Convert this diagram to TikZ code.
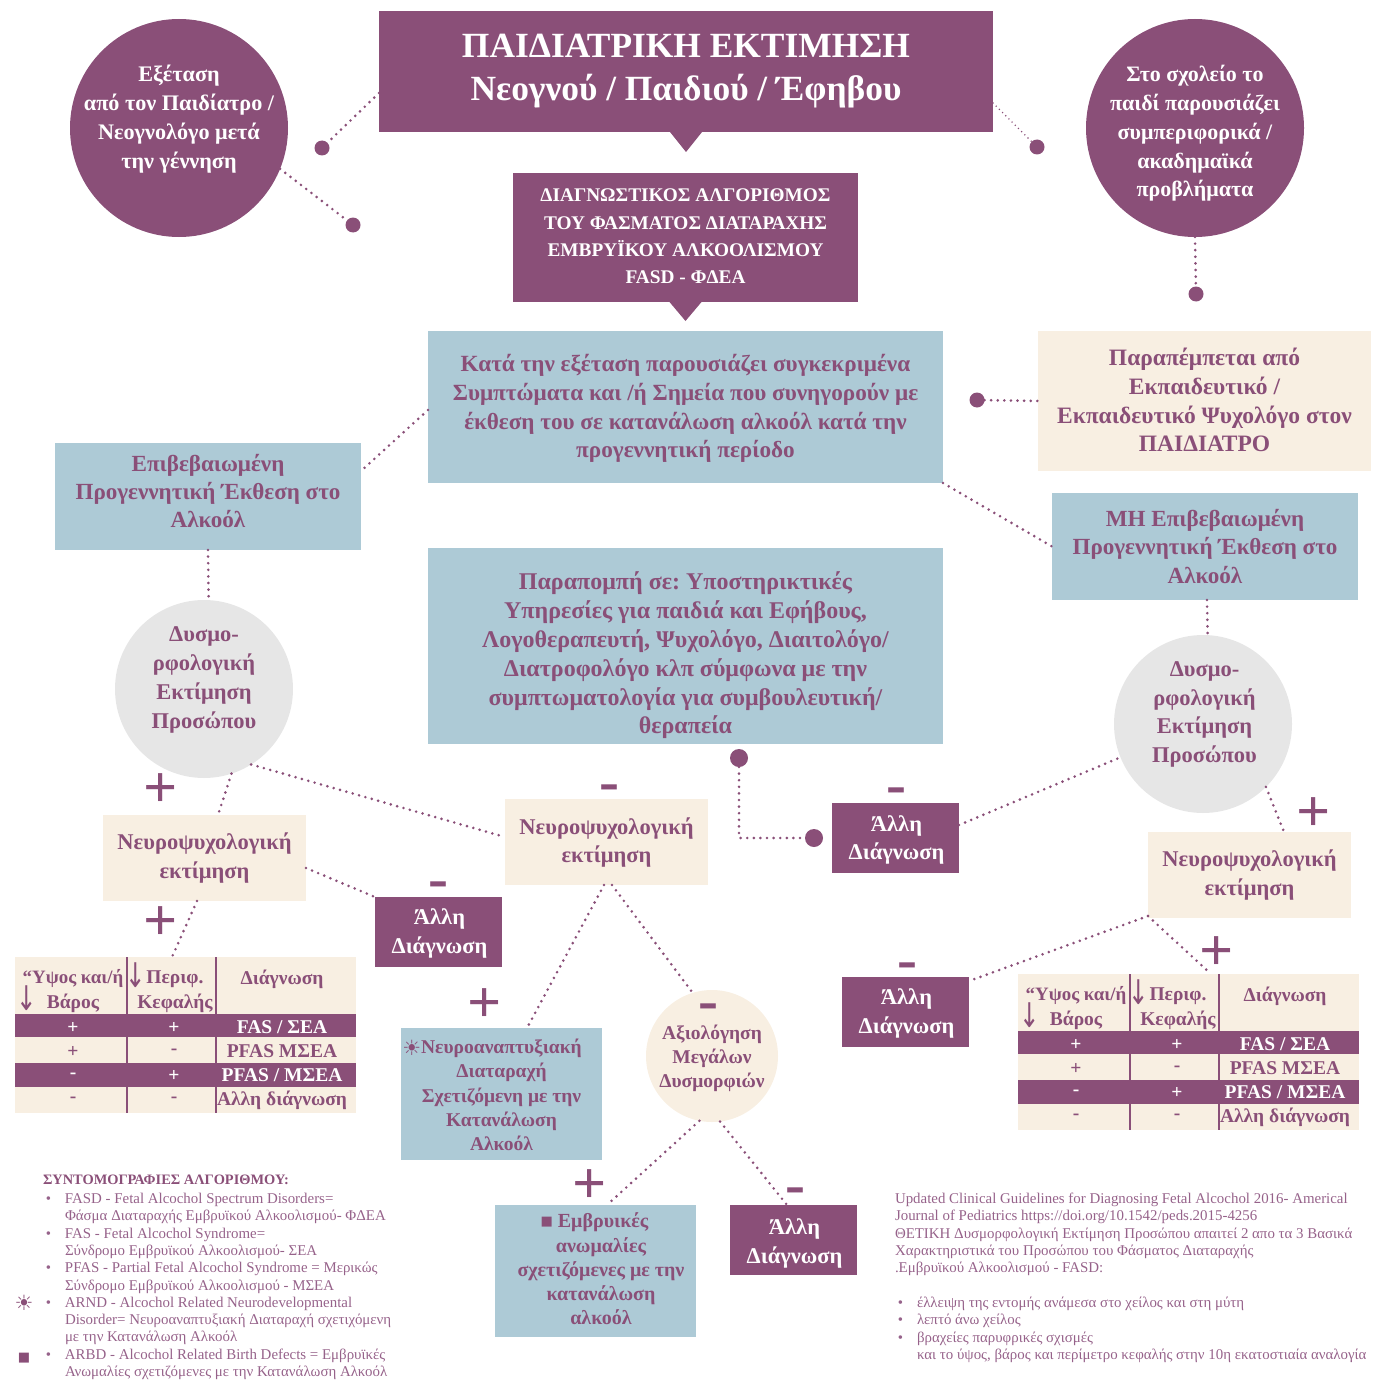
\documentclass[tikz,border=0pt]{standalone}
\usepackage{fontspec}
\usepackage{graphicx}
\setmainfont{Liberation Serif}
\newfontfamily\symfont{DejaVu Sans}
\usetikzlibrary{calc}
\definecolor{pur}{HTML}{8A4F78}
\definecolor{legtxt}{HTML}{96628A}
\definecolor{blu}{HTML}{ADCAD6}
\definecolor{bei}{HTML}{F8EFE2}
\definecolor{gry}{HTML}{E6E6E6}
\newcommand\fs[2]{\fontsize{#1}{#2}\selectfont}
\tikzset{
  x=1pt,y=-1pt,
  rectbase/.style={rectangle,inner sep=0pt,outer sep=0pt,draw=none},
  purbox/.style={rectbase,fill=pur},
  blubox/.style={rectbase,fill=blu},
  beibox/.style={rectbase,fill=bei},
  disc/.style={circle,inner sep=0pt,outer sep=0pt,draw=none},
  txt/.style={inner sep=0pt,outer sep=0pt,align=center,font=\fs{22.5}{28.8}\bfseries},
  txtw/.style={txt,text=white},
  txtp/.style={txt,text=pur},
  small/.style={font=\fs{19.5}{24.2}\bfseries},
  dotn/.style={circle,fill=pur,minimum size=15pt,inner sep=0pt,outer sep=0pt},
  conn/.style={draw=pur,line width=2.9pt,line cap=round,dash pattern=on 0pt off 6.6pt},
  connthin/.style={draw=pur,line width=1.6pt,line cap=round,dash pattern=on 0pt off 4.5pt},
  sign/.style={inner sep=0pt,outer sep=0pt,text=pur,font=\fs{60}{60}\bfseries},
  cell/.style={inner sep=0pt,outer sep=0pt,text=pur,font=\fs{19.5}{24}\bfseries},
  cellw/.style={inner sep=0pt,outer sep=0pt,text=white,font=\fs{19.5}{24}\bfseries},
  glyph/.style={inner sep=0pt,outer sep=0pt,text=pur,font=\symfont},
  leg/.style={inner sep=0pt,outer sep=0pt,anchor=north west,align=left,text=legtxt,font=\fs{14.9}{17.33}},
}
% #1 name #2 box style #3 x0 #4 y0 #5 x1 #6 y1 #7 text style #8 text centre y #9 text
\newcommand\bx[9]{%
  \node[#2,minimum width={#5-(#3)},minimum height={#6-(#4)}] (#1) at ({(#3+#5)/2},{(#4+#6)/2}) {};
  \node[#7] (#1t) at ({(#3+#5)/2},#8) {#9};
}
% #1 name #2 circle style colour #3 cx #4 cy #5 r #6 text style #7 text y #8 text
\newcommand\crc[8]{%
  \node[disc,fill=#2,minimum size={2*#5}] (#1) at (#3,#4) {};
  \node[#6] (#1t) at (#3,#7) {#8};
}
\newcommand\dnarrow{\scalebox{.72}[1]{↓}}
\newcommand\tbl[3]{%
  \begin{scope}[shift={(#2,#3)}]
    \node[beibox,minimum width=341pt,minimum height=156pt] (#1) at (185.5,1035) {};
    \node[purbox,minimum width=341pt,minimum height=23pt] (#1ra) at (185.5,1025.5) {};
    \node[purbox,minimum width=341pt,minimum height=24pt] (#1rb) at (185.5,1075) {};
    \draw[pur,line width=1.6pt] (127,957) -- (127,1014) (216,957) -- (216,1014)
       (127,1037) -- (127,1063) (216,1037) -- (216,1063)
       (127,1087) -- (127,1113) (216,1087) -- (216,1113);
    \node[cell,font=\fs{18.9}{24}\bfseries] (#1ha) at (73,978) {“Υψος και/ή};
    \node[cell] (#1hb) at (73,1003) {Βάρος};
    \node[cell] (#1hc) at (175,979) {Περιφ.};
    \node[cell] (#1hd) at (175,1003) {Κεφαλής};
    \node[cell] (#1he) at (282,979) {Διάγνωση};
    \node[glyph,font=\symfont\fs{34}{34}] (#1aa) at (27,998) {\dnarrow};
    \node[glyph,font=\symfont\fs{34}{34}] (#1ab) at (136,975) {\dnarrow};
    \node[cellw] (#1a) at (73,1028) {+};
    \node[cellw] (#1b) at (174,1028) {+};
    \node[cellw] (#1c) at (282,1027) {FAS / ΣΕΑ};
    \node[cell] (#1d) at (73,1052) {+};
    \node[cell] (#1e) at (174,1052) {-};
    \node[cell] (#1f) at (282,1051) {PFAS ΜΣΕΑ};
    \node[cellw] (#1g) at (73,1076) {-};
    \node[cellw] (#1h) at (174,1076) {+};
    \node[cellw] (#1i) at (282,1075) {PFAS / ΜΣΕΑ};
    \node[cell] (#1j) at (73,1100) {-};
    \node[cell] (#1k) at (174,1100) {-};
    \node[cell] (#1l) at (282,1100) {Αλλη διάγνωση};
  \end{scope}
}
\newcommand\bul{\llap{•\hspace{14pt}}}
\frenchspacing
\begin{document}
\begin{tikzpicture}
\useasboundingbox (0,0) rectangle (1376,1383);
% top
\bx{title}{purbox}{379}{11}{993}{132}{txtw,font=\fs{35.4}{43}\bfseries}{71.5}{ΠΑΙΔΙΑΤΡΙΚΗ ΕΚΤΙΜΗΣΗ\\Νεογνού / Παιδιού / Έφηβου}
\fill[pur] ([xshift=-16pt]title.south) -- ([xshift=16pt]title.south) -- ([yshift=-20pt]title.south) -- cycle;
\bx{diag}{purbox}{513}{173}{858}{302}{txtw,font=\fs{19.3}{27.4}\bfseries}{236.5}{ΔΙΑΓΝΩΣΤΙΚΟΣ ΑΛΓΟΡΙΘΜΟΣ\\ΤΟΥ ΦΑΣΜΑΤΟΣ ΔΙΑΤΑΡΑΧΗΣ\\ΕΜΒΡΥΪΚΟΥ ΑΛΚΟΟΛΙΣΜΟΥ\\FASD - ΦΔΕΑ}
\fill[pur] ([xshift=-16pt]diag.south) -- ([xshift=16pt]diag.south) -- ([yshift=-19pt]diag.south) -- cycle;
\crc{cA}{pur}{179}{128}{109}{txtw,font=\fs{22.2}{28.8}\bfseries}{119}{Εξέταση\\από τον Παιδίατρο /\\Νεογνολόγο μετά\\την γέννηση}
\crc{cB}{pur}{1195}{128}{109}{txtw,font=\fs{22}{28.8}\bfseries}{133.5}{Στο σχολείο το\\παιδί παρουσιάζει\\συμπεριφορικά /\\ακαδημαϊκά\\προβλήματα}
\node[dotn] (dA) at (322,148) {};
\node[dotn] (dB) at (353,225) {};
\node[dotn] (dC) at (1037,147) {};
\node[dotn] (dD) at (1196,294) {};
\node[dotn] (dE) at (977,400) {};
\node[dotn,minimum size=18pt] (dF) at (739,758) {};
\node[dotn,minimum size=18pt] (dG) at (814,838) {};
% middle boxes
\bx{kata}{blubox}{428}{331}{943}{483}{txtp,font=\fs{23.2}{28.8}\bfseries}{408.5}{Κατά την εξέταση παρουσιάζει συγκεκριμένα\\Συμπτώματα και /ή Σημεία που συνηγορούν με\\έκθεση του σε κατανάλωση αλκοόλ κατά την\\προγεννητική περίοδο}
\bx{pink}{beibox}{1038}{331}{1371}{471}{txtp,font=\fs{23.5}{28.8}\bfseries}{400}{Παραπέμπεται από\\Εκπαιδευτικό /\\Εκπαιδευτικό Ψυχολόγο στον\\ΠΑΙΔΙΑΤΡΟ}
\bx{epib}{blubox}{55}{443}{361}{550}{txtp,font=\fs{23.1}{28}\bfseries}{491}{Επιβεβαιωμένη\\Προγεννητική Έκθεση στο\\Αλκοόλ}
\bx{mh}{blubox}{1052}{493}{1358}{600}{txtp,font=\fs{23.1}{28.5}\bfseries}{546.5}{ΜΗ Επιβεβαιωμένη\\Προγεννητική Έκθεση στο\\Αλκοόλ}
\bx{ref}{blubox}{428}{548}{943}{744}{txtp,font=\fs{24}{28.8}\bfseries}{655.5}{Παραπομπή σε: Υποστηρικτικές\\Υπηρεσίες για παιδιά και Εφήβους,\\Λογοθεραπευτή, Ψυχολόγο, Διαιτολόγο/\\Διατροφολόγο κλπ σύμφωνα με την\\συμπτωματολογία για συμβουλευτική/\\θεραπεία}
\crc{cC}{gry}{204}{689}{89}{txtp}{680}{Δυσμο-\\ρφολογική\\Εκτίμηση\\Προσώπου}
\crc{cD}{gry}{1203}{724}{89}{txtp,xshift=1.5pt}{714.5}{Δυσμο-\\ρφολογική\\Εκτίμηση\\Προσώπου}
\bx{nA}{beibox}{103}{815}{306}{901}{txtp}{858}{Νευροψυχολογική\\εκτίμηση}
\bx{nB}{beibox}{505}{799}{708}{885}{txtp}{842.5}{Νευροψυχολογική\\εκτίμηση}
\bx{nC}{beibox}{1148}{832}{1351}{918}{txtp}{875}{Νευροψυχολογική\\εκτίμηση}
\bx{aA}{purbox}{375}{897}{502}{967}{txtw,xshift=1pt}{933.5}{Άλλη\\Διάγνωση}
\bx{aB}{purbox}{832}{803}{959}{873}{txtw,xshift=1pt}{840}{Άλλη\\Διάγνωση}
\bx{aC}{purbox}{842}{977}{969}{1047}{txtw,xshift=1pt}{1013.5}{Άλλη\\Διάγνωση}
\bx{aD}{purbox}{730}{1205}{857}{1275}{txtw,xshift=1pt}{1243.5}{Άλλη\\Διάγνωση}
\bx{nrb}{blubox}{401}{1028}{602}{1160}{txtp,small}{1095}{\raisebox{-2pt}{\symfont\fs{21}{24}\mdseries ☀}Νευροαναπτυξιακή\kern19pt\\Διαταραχή\\Σχετιζόμενη με την\\Κατανάλωση\\Αλκοόλ}
\bx{emb}{blubox}{495}{1205}{696}{1337}{txtp,font=\fs{20}{24.2}\bfseries,xshift=5.5pt}{1269}{\raisebox{2pt}{\symfont\fs{13}{24}■} Εμβρυικές\kern13pt\\ανωμαλίες\\σχετιζόμενες με την\\κατανάλωση\\αλκοόλ}
\crc{cE}{bei}{712}{1056}{66}{txtp,small}{1058.5}{Αξιολόγηση\\Μεγάλων\\Δυσμορφιών}
% tables
\tbl{tA}{0}{0}
\tbl{tB}{1003}{17}
% signs
\node[sign] (pA) at (161,791) {+};
\node[sign] (pB) at (161,924) {+};
\node[sign] (pC) at (485,1006) {+};
\node[sign] (pD) at (590,1187) {+};
\node[sign] (pE) at (1314,815) {+};
\node[sign] (pF) at (1217,954) {+};
\node[sign] (mA) at (609,793) {-};
\node[sign] (mB) at (438,890) {-};
\node[sign] (mC) at (708,1012) {-};
\node[sign] (mD) at (896,796) {-};
\node[sign] (mE) at (907,971) {-};
\node[sign] (mF) at (795,1196) {-};
% connectors
\draw[conn] ([yshift=-21.5pt]title.west) -- (dA);
\draw[conn] (cA.-22.6) -- (dB);
\draw[connthin] ([yshift=-31.5pt]title.east) -- (dC);
\draw[conn] (cB.south) -- (dD);
\draw[conn] (dE) -- (pink.west);
\draw[conn] ([yshift=-3pt]kata.west) -- ([yshift=25.5pt]epib.east);
\draw[conn] (kata.south east) -- (mh.west);
\draw[conn] (epib.south) -- (cC.87.4);
\draw[conn] ([xshift=2pt]mh.south) -- (cD.87.4);
\draw[conn] (cC.-72) -- ([xshift=13.5pt]nA.north);
\draw[conn] (cC.-58.4) -- ([yshift=5pt]nB.west);
\draw[conn] ([yshift=-10pt]nA.east) -- (aA.north west);
\draw[conn] ([xshift=-7.5pt]nA.south) -- ([xshift=-13.5pt]tA.north);
\draw[conn] ([xshift=-2.5pt]nB.south) -- ([xshift=25.5pt]nrb.north);
\draw[conn] ([xshift=5.5pt]nB.south) -- (cE.107);
\draw[conn] (cE.259.5) -- ([xshift=11.5pt]emb.north);
\draw[conn] (cE.-83) -- ([xshift=-6.5pt]aD.north);
\draw[conn] (dF) |- (dG);
\draw[conn] ([yshift=13pt]aB.east) -- (cD.202.8);
\draw[conn] (cD.-45.5) -- ([xshift=34.5pt]nC.north);
\draw[conn] ([yshift=2pt]nC.south west) -- ([yshift=31pt]aC.east);
\draw[conn] ([yshift=2pt]nC.south west) -- ([xshift=22.5pt]tB.north);
% legend
\node[leg,text=pur,font=\fs{14.4}{17.33}\bfseries] (lh) at (43,1175) {ΣΥΝΤΟΜΟΓΡΑΦΙΕΣ ΑΛΓΟΡΙΘΜΟΥ:};
\node[leg] (lb) at (65,1193) {\bul FASD - Fetal Alcochol Spectrum Disorders=\\Φάσμα Διαταραχής Εμβρυϊκού Αλκοολισμού- ΦΔΕΑ\\\bul FAS - Fetal Alcochol Syndrome=\\Σύνδρομο Εμβρυϊκού Αλκοολισμού- ΣΕΑ\\\bul PFAS - Partial Fetal Alcochol Syndrome = Μερικώς\\Σύνδρομο Εμβρυϊκού Αλκοολισμού - ΜΣΕΑ\\\bul ARND - Alcochol Related Neurodevelopmental\\Disorder= Νευροαναπτυξιακή Διαταραχή σχετιχόμενη\\με την Κατανάλωση Αλκοόλ\\\bul ARBD - Alcochol Related Birth Defects = Εμβρυϊκές\\Ανωμαλίες σχετιζόμενες με την Κατανάλωση Αλκοόλ};
\node[glyph,font=\symfont\fs{21}{21}] (ls) at (24,1303) {☀};
\node[glyph,font=\symfont\fs{13}{13}] (lq) at (24,1358) {■};
\node[leg] (rn) at (895,1193) {Updated Clinical Guidelines for Diagnosing Fetal Alcochol 2016- Americal\\Journal of Pediatrics https://doi.org/10.1542/peds.2015-4256\\ΘΕΤΙΚΗ Δυσμορφολογική Εκτίμηση Προσώπου απαιτεί 2 απο τα 3 Βασικά\\Χαρακτηριστικά του Προσώπου του Φάσματος Διαταραχής\\.Εμβρυϊκού Αλκοολισμού - FASD:};
\node[leg] (rb) at (917,1297) {\bul έλλειψη της εντομής ανάμεσα στο χείλος και στη μύτη\\\bul λεπτό άνω χείλος\\\bul βραχείες παρυφρικές σχισμές\\και το ύψος, βάρος και περίμετρο κεφαλής στην 10η εκατοστιαία αναλογία};
\end{tikzpicture}
\end{document}
